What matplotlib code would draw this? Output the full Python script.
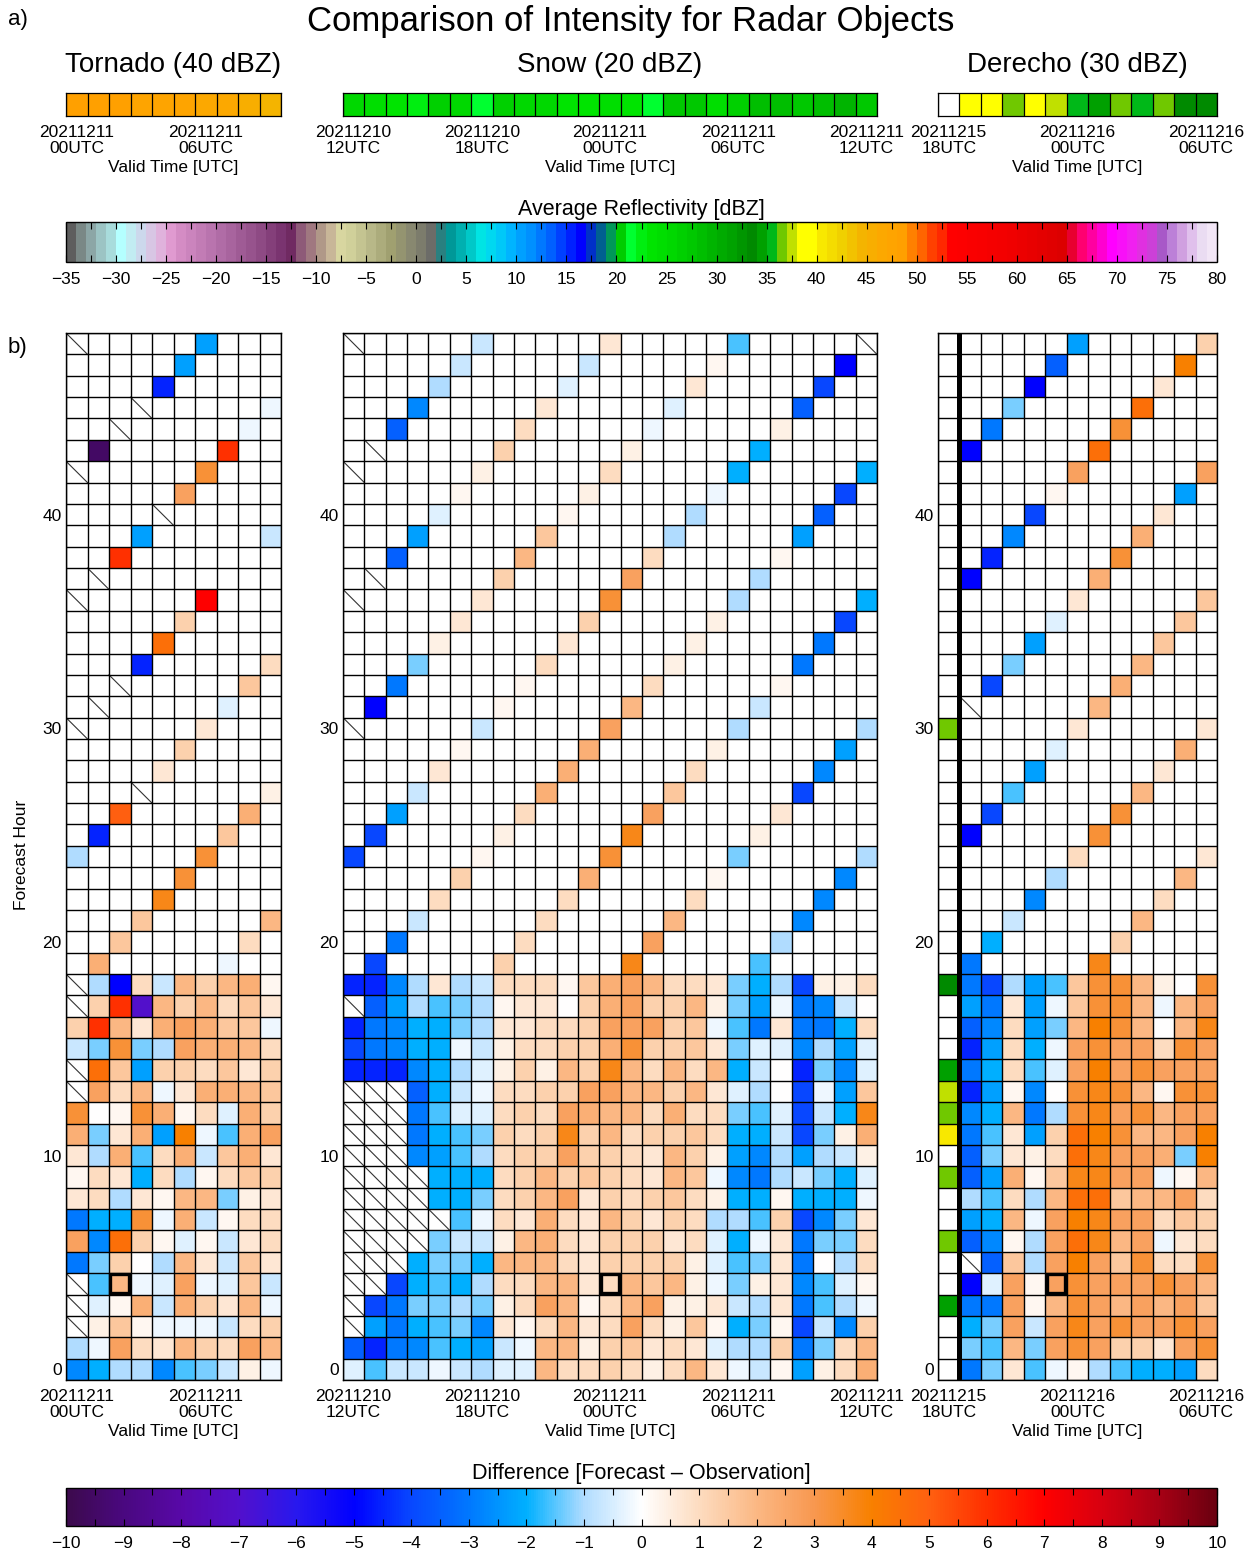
import numpy as np
import matplotlib
matplotlib.use("Agg")
import matplotlib.pyplot as plt
from matplotlib.colors import ListedColormap, LinearSegmentedColormap, BoundaryNorm, Normalize, to_rgb
from matplotlib.patches import Rectangle
from matplotlib.ticker import MultipleLocator

plt.rcParams['font.family'] = ['Liberation Sans', 'DejaVu Sans']

# ---------------- data ----------------
# cell code -> difference value (forecast - observation); '.' = no forecast, '/' = missing (hatched)
CODE = {'0': 0.0, '1': 0.2, '2': 0.4, '3': 0.7, '4': 1.0, '5': 1.3, '6': 1.6, '7': 2.0, '8': 2.3, '9': 2.7,
        'A': 3.0, 'B': 3.3, 'C': 3.7, 'D': 4.0, 'E': 4.5, 'F': 5.0, 'G': 5.5, 'H': 6.0, 'I': 7.0, 'J': 8.0,
        'a': -0.2, 'b': -0.4, 'c': -0.7, 'd': -1.0, 'e': -1.3, 'f': -1.6, 'g': -2.0, 'h': -2.3, 'i': -2.7,
        'j': -3.0, 'k': -3.5, 'l': -4.0, 'm': -4.5, 'n': -5.0, 'o': -6.0, 'p': -7.0, 'q': -8.0, 'r': -9.0,
        's': -9.5}

# rows listed from forecast hour 48 (top) down to 0 (bottom)
tornado_rows = [
    "/.....h...", ".....h....", "....m.....", ".../.....a", "../.....a.",
    ".s.....H..", "/.....B...", ".....9....", "..../.....", "...h.....c",
    "..H.......", "./........", "/.....I...", ".....5....", "....E.....",
    "...m.....4", "../.....6.", "./.....b..", "/.....3...", ".....5....",
    "....3.....", ".../.....2", "..F.....8.", ".m.....6..", "d.....B...",
    ".....B....", "....C.....", "...6.....7", "..6.....4.", ".8.....a..",
    "/dn4c75781", "/5Hp757463", "5H7389866a", "ceBed98874", "/E6h554635",
    "/947a38876", "B01B814b85", "8e38hDaf89", "3d8f48c683", "143g4d1465",
    "34d3177e23", "jggBa8c144", "9iE51b1c34", "je50d73c63", "/f7ab9ab6c",
    "/b18c8537a", "/261aaac45", "da94375497", "igddifec2a",
]

snow_rows = [
    "/.....c.....3.....f...../", ".....c.....c.....1.....n.", "....d.....b.....3.....l..",
    "...i.....3.....b.....k...", "..k.....4.....a.....2....", "./.....5.....2.....g.....",
    "/.....2.....4.....g.....g", ".....1.....2.....a.....l.", "....b.....1.....d.....k..",
    "...h.....6.....d.....h...", "..k.....7.....4.....1....", "./.....5.....9.....d.....",
    "/.....3.....B.....d.....g", ".....3.....5.....2.....l.", "....2.....3.....2.....j..",
    "...e.....4.....2.....j...", "..j.....1.....4.....1....", ".n.....1.....7.....c.....",
    "/.....c.....9.....d.....d", ".....1.....8.....2.....h.", "....3.....8.....4.....i..",
    "...c.....8.....6.....l...", "..h.....4.....9.....3....", ".l.....2.....C.....2.....",
    "l.....1.....B.....e.....d", ".....5.....8.....1.....i.", "....4.....4.....4.....i..",
    "...c.....4.....7.....i...", "..j.....4.....9.....d....", ".l.....5.....C.....f.....",
    "mmid3dc44416897443egdl224",
    "/khdfed13305895572ehajic0",
    "mjigged3344599956afj3jjg4",
    "ljiggac244558B5563ebbidhb",
    "mmmigdb25275C74747gc0meib",
    "///kgca44559977573bd0lah6",
    "///jfbb45498774844efblcgC",
    "///jgfe545C5745564ggcle28",
    "///ihfd45595543752hidhdc2",
    "////ggg4575654376aijdcegb",
    "////gge45793545642gg1ggga",
    "/////fa4384375354ddf5lie3",
    "////ecc2784355534bga3jee4",
    "///geeg7774355552bfe3j0d4",
    "//lgfgd4477347672ae23ifb1",
    "/ljeede24971479223cd3jfda",
    "/hjgfei31473494261ge1lci5",
    "kmjifghca77256343bdd5je47",
    "bfccacdbb744542473ac1h248",
]

derecho_rows = [
    "......h.....5", ".....k.....D.", "....n.....3..", "...e.....E...", "..j.....B....",
    ".n.....E.....", "......9.....9", ".....1.....h.", "....l.....3..", "...i.....8...",
    "..m.....B....", ".n.....8.....", "......3.....6", ".....b.....6.", "....h.....6..",
    "...e.....7...", "..l.....8....", "./.....7.....", "......3.....3", ".....b.....8.",
    "....h.....3..", "...f.....7...", "..l.....B....", ".n.....B.....", "......4.....3",
    ".....d.....7.", "....i.....4..", "...c.....7...", "..g.....5....", ".j.....C.....",
    ".jldhf6BB720B", ".hj3ha6BB7a79", ".ki4he7DB707C", ".mh4ga9B994B9", ".jg4fb9D9B999",
    ".mh1i0BCB71BB", ".ig7jdBC9B799", ".jf3h5EDB779D", ".ke324EC998eD", ".kh816CC99a17",
    ".df4d7EE67794", ".hg7a9DC99465", ".ki1d9EC79a34", "./k6d9D96B44B", ".nb919B999B97",
    ".jj917B979796", ".ge9c9C9B99B9", ".ef7e9B95539B", ".je3fa1dfggh4",
]

# observed object reflectivity (dBZ) for each valid time (top strips)
tornado_obs = [48, 48, 48, 47, 47, 47, 46, 46, 45, 44]
snow_obs = [25, 24, 23, 22, 26, 25, 21, 26, 25, 25, 23, 23, 24, 23, 21, 27, 27, 24, 26, 28, 28, 27, 28, 29, 27]
derecho_obs = [np.nan, 39, 39, 36, 39, 37, 35, 34, 36, 35, 36, 33, 33]

# derecho first valid-time column: reflectivity shading
derecho_col0_hours = [30, 18, 14, 13, 12, 11, 9, 6, 3]
derecho_col0_dbz = [36, 33, 34, 37, 36, 40, 36, 36, 34]

tornado_tick_cols = [0, 6]
tornado_tick_labels = ["20211211\n00UTC", "20211211\n06UTC"]
snow_tick_cols = [0, 6, 12, 18, 24]
snow_tick_labels = ["20211210\n12UTC", "20211210\n18UTC", "20211211\n00UTC", "20211211\n06UTC", "20211211\n12UTC"]
derecho_tick_cols = [0, 6, 12]
derecho_tick_labels = ["20211215\n18UTC", "20211216\n00UTC", "20211216\n06UTC"]

box_cols = [2, 12, 5]
box_hour = 4

# reflectivity colour table anchors
refl_anchor_dbz = [-35, -34, -33, -32, -31, -30, -29, -28, -27, -26, -25, -24, -20, -16, -14, -13, -12, -11,
                   -10, -9, -8, -7, -5, -3, -1, 0, 1, 2, 3, 4, 5, 6, 7, 8, 9, 10, 11, 12, 13, 14, 15, 16, 17,
                   18, 19, 20, 21, 22, 23, 25, 27, 29, 31, 33, 34, 35, 36, 37, 38, 39, 40, 42, 44, 46, 48, 49,
                   50, 51, 52, 53, 59, 64, 65, 66, 67, 68, 69, 71, 72, 73, 74, 75, 76, 77, 78, 79]
refl_anchor_hex = ['#5e5e5e', '#7a8886', '#8ca6a6', '#9cc4c4', '#a8dcdc', '#b4ffff', '#c2ecf2', '#ccd8ec',
                   '#d8c6e4', '#e0b2dc', '#e09ad0', '#d48cc4', '#b06ca6', '#8e4a84', '#7a3470', '#702a62',
                   '#8e5a78', '#a07880', '#b09888', '#c8b698', '#d8d6a0', '#d0d09a', '#b8b888', '#a0a070',
                   '#888870', '#7c7c6c', '#6c6c68', '#2a8080', '#009898', '#00b0b0', '#00c8c8', '#00e4e4',
                   '#00d8f0', '#00c8f8', '#00b4ff', '#00a0ff', '#0090ff', '#0078ff', '#0060ff', '#0040ff',
                   '#0020ff', '#0000ff', '#0030c8', '#006090', '#009858', '#00cc00', '#00ff30', '#00ee10',
                   '#00e400', '#00d800', '#00c800', '#00b400', '#00a200', '#008a00', '#00a000', '#00b818',
                   '#70c800', '#c0e000', '#ffff00', '#ffff00', '#f8e800', '#f0d000', '#f4b400', '#fca800',
                   '#ffa000', '#ff8000', '#ff6400', '#ff4000', '#ff2800', '#ff0000', '#f00000', '#dc0000',
                   '#e80030', '#ff0070', '#ff00a0', '#ff00d0', '#ff00ff', '#f020f0', '#e030e0', '#cc40d8',
                   '#a858c8', '#bc80d8', '#d0a0e0', '#e0c0ec', '#eadcf2', '#f2e6f6']

# difference colour table anchors
diff_anchor_val = [-10, -9, -8, -7, -6, -5, -4, -3, -2, -1, 0, 1, 2, 3, 4, 5, 6, 7, 8, 9, 10]
diff_anchor_hex = ['#3c0a4c', '#4a0880', '#5808a8', '#5210cc', '#2818ee', '#0000ff', '#0848ff', '#0078ff',
                   '#00b0ff', '#b0dcff', '#ffffff', '#fddcc0', '#fbb884', '#f89850', '#f88000', '#ff6010',
                   '#ff3000', '#ff0000', '#d80010', '#a80014', '#6a0010']

# ---------------- colour maps ----------------
rgb = np.array([to_rgb(h) for h in refl_anchor_hex])
centers = np.arange(-35, 80)
refl_cols = np.stack([np.interp(centers, refl_anchor_dbz, rgb[:, k]) for k in range(3)], axis=1)
refl_cmap = ListedColormap(refl_cols)
refl_cmap.set_bad((1, 1, 1, 1))
refl_norm = BoundaryNorm(np.arange(-35, 81), refl_cmap.N)
refl_cmap_t = ListedColormap(refl_cols)
refl_cmap_t.set_bad((1, 1, 1, 0))

diff_cmap = LinearSegmentedColormap.from_list(
    'diff', [((v + 10) / 20.0, h) for v, h in zip(diff_anchor_val, diff_anchor_hex)], N=512)
diff_cmap.set_bad((1, 1, 1, 1))
diff_norm = Normalize(-10, 10)


def decode(rows):
    nrow, ncol = len(rows), len(rows[0])
    vals = np.full((nrow, ncol), np.nan)
    hatch = np.zeros((nrow, ncol), bool)
    for i, s in enumerate(rows):
        r = nrow - 1 - i
        for c, ch in enumerate(s):
            if ch == '/':
                hatch[r, c] = True
            elif ch != '.':
                vals[r, c] = CODE[ch]
    return vals, hatch


# ---------------- figure ----------------
W, H = 1258, 1552
fig = plt.figure(figsize=(W / 100, H / 100), dpi=100)


def ax_px(x0, y0, x1, y1):
    return fig.add_axes([x0 / W, 1 - y1 / H, (x1 - x0) / W, (y1 - y0) / H])


def ftext(x, y, s, **kw):
    fig.text(x / W, 1 - y / H, s, **kw)


FS = 12.5
ftext(8, 19, "a)", fontsize=16, ha='left', va='center')
ftext(8, 347, "b)", fontsize=16, ha='left', va='center')
ftext(631, 22, "Comparison of Intensity for Radar Objects", fontsize=25, ha='center', va='center')

panels = [
    ("Tornado (40 dBZ)", tornado_rows, tornado_obs, tornado_tick_cols, tornado_tick_labels, 66, 281),
    ("Snow (20 dBZ)", snow_rows, snow_obs, snow_tick_cols, snow_tick_labels, 343, 877),
    ("Derecho (30 dBZ)", derecho_rows, derecho_obs, derecho_tick_cols, derecho_tick_labels, 938, 1217),
]


def style_xticks(ax, cols, labels):
    ax.set_xticks([c + 0.5 for c in cols])
    ax.set_xticklabels(labels)
    for t in ax.get_xticklabels():
        t.set_linespacing(1.12)
    ax.tick_params(axis='x', length=0, pad=6.5, labelsize=FS)
    ax.set_xlabel("Valid Time [UTC]", fontsize=FS, labelpad=2.5)


for k, (title, rows, obs, tcols, tlabels, x0, x1) in enumerate(panels):
    ncol = len(obs)
    ftext((x0 + x1) / 2, 65, title, fontsize=20, ha='center', va='center')

    # observation strip
    sax = ax_px(x0, 93, x1, 116)
    ob = np.ma.masked_invalid(np.array(obs, float)[None, :])
    sax.pcolormesh(np.arange(ncol + 1), [0, 1], ob, cmap=refl_cmap, norm=refl_norm, edgecolors='none')
    sax.vlines(np.arange(ncol + 1), 0, 1, color='k', lw=0.9)
    sax.set_xlim(0, ncol)
    sax.set_ylim(0, 1)
    sax.set_yticks([])
    for sp in sax.spines.values():
        sp.set_linewidth(0.9)
    style_xticks(sax, tcols, tlabels)

    # main grid
    ax = ax_px(x0, 333, x1, 1380)
    vals, hatch = decode(rows)
    nrow = vals.shape[0]
    ax.pcolormesh(np.arange(ncol + 1), np.arange(nrow + 1), np.ma.masked_invalid(vals),
                  cmap=diff_cmap, norm=diff_norm, edgecolors='none', zorder=1)
    if k == 2:
        col0 = np.full((nrow, 1), np.nan)
        for hr, dbz in zip(derecho_col0_hours, derecho_col0_dbz):
            col0[hr, 0] = dbz
        ax.pcolormesh([0, 1], np.arange(nrow + 1), np.ma.masked_invalid(col0),
                      cmap=refl_cmap_t, norm=refl_norm, edgecolors='none', zorder=1.5)
    rr, cc = np.nonzero(hatch)
    for r, c in zip(rr, cc):
        ax.plot([c, c + 1], [r + 1, r], color='#333333', lw=0.8, zorder=2)
    ax.hlines(np.arange(nrow + 1), 0, ncol, color='k', lw=1.0, zorder=3)
    ax.vlines(np.arange(ncol + 1), 0, nrow, color='k', lw=1.0, zorder=3)
    ax.add_patch(Rectangle((box_cols[k] + 0.06, box_hour + 0.06), 0.88, 0.88, fill=False,
                           ec='k', lw=2.4, zorder=4))
    if k == 2:
        ax.axvline(1, color='k', lw=3.6, zorder=5)
    ax.set_xlim(0, ncol)
    ax.set_ylim(0, nrow)
    ax.set_yticks([r + 0.5 for r in range(0, 41, 10)])
    ax.set_yticklabels([str(r) for r in range(0, 41, 10)])
    ax.tick_params(axis='y', length=0, pad=3, labelsize=FS)
    for sp in ax.spines.values():
        sp.set_linewidth(1.0)
    style_xticks(ax, tcols, tlabels)

ftext(22, 855, "Forecast Hour", fontsize=FS, rotation=90, ha='center', va='center')

# reflectivity colour bar
cax1 = ax_px(66, 222, 1217, 262)
cb1 = fig.colorbar(plt.cm.ScalarMappable(norm=refl_norm, cmap=refl_cmap), cax=cax1,
                   orientation='horizontal', ticks=np.arange(-35, 81, 5))
cb1.ax.xaxis.set_minor_locator(MultipleLocator(2.5))
cb1.ax.tick_params(which='both', direction='in', top=True, bottom=True, length=5, width=0.8,
                   labelsize=FS, pad=7)
cb1.outline.set_linewidth(1.0)
cb1.ax.set_xticklabels([str(v).replace('-', '\u2212') for v in range(-35, 81, 5)])
ftext(641, 209, "Average Reflectivity [dBZ]", fontsize=15.5, ha='center', va='center')

# difference colour bar
cax2 = ax_px(66, 1488, 1217, 1526)
cb2 = fig.colorbar(plt.cm.ScalarMappable(norm=diff_norm, cmap=diff_cmap), cax=cax2,
                   orientation='horizontal', ticks=np.arange(-10, 11, 1))
cb2.ax.xaxis.set_minor_locator(MultipleLocator(0.5))
cb2.ax.tick_params(which='both', direction='in', top=True, bottom=True, length=5, width=0.8,
                   labelsize=FS, pad=7)
cb2.outline.set_linewidth(1.0)
cb2.ax.set_xticklabels([str(v).replace('-', '\u2212') for v in range(-10, 11)])
ftext(641, 1473, "Difference [Forecast \u2013 Observation]", fontsize=15.5, ha='center', va='center')

fig.savefig("out.png", dpi=100)
